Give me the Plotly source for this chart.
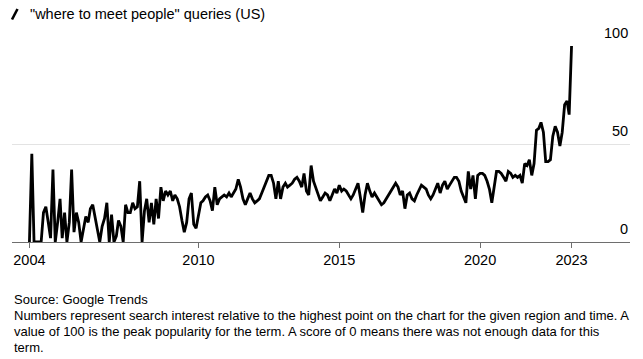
import plotly.graph_objects as go
import pandas as pd

# Monthly Google Trends values, Jan 2004 – Apr 2023
values = [
    0, 45, 0, 0, 0, 0, 15, 18, 10, 2,            # 2004 Jan-Oct
    37, 0, 10, 22, 2, 15, 0, 10, 37, 5,          # m10-19
    15, 10, 0, 7, 13, 10, 17, 19, 12, 5,         # m20-29
    0, 8, 12, 20, 0, 14, 0, 3, 11, 8,            # m30-39
    0, 19, 15, 15, 20, 17, 18, 31, 0, 16,        # m40-49
    22, 10, 20, 9, 22, 12, 28, 21, 26, 24,       # m50-59
    26, 21, 24, 22, 18, 11, 5, 10, 22, 25,       # m60-69
    9, 7, 13, 20, 21, 23, 24, 21, 16, 28,        # m70-79
    19, 22, 23, 24, 23, 25, 23, 25, 27, 32,      # m80-89
    28, 22, 19, 22, 25, 22, 20, 21, 22, 25,      # m90-99
    28, 31, 34, 34, 30, 22, 31, 22, 28, 30,      # m100-109
    28, 29, 30, 32, 33, 31, 28, 35, 26, 24,      # m110-119
    39, 31, 28, 25, 21, 23, 25, 24, 21, 24,      # m120-129
    27, 25, 29, 26, 27, 26, 24, 22, 24, 27,      # m130-139
    30, 23, 15, 24, 30, 26, 23, 25, 23, 21,      # m140-149
    19, 20, 22, 24, 26, 28, 30, 28, 24, 26,      # m150-159
    17, 24, 25, 22, 21, 24, 27, 29, 28, 27,      # m160-169
    24, 22, 24, 27, 30, 25, 29, 31, 27, 29,      # m170-179
    31, 33, 33, 31, 26, 23, 20, 36, 27, 34,      # m180-189
    22, 34, 35, 35, 34, 31, 27, 20, 28, 36,      # m190-199
    36, 35, 33, 31, 36, 35, 33, 34, 33, 34,      # m200-209
    30, 40, 39, 42, 34, 40, 57, 58, 61, 56,      # m210-219
    41, 41, 42, 54, 59, 56, 49, 56, 70, 72,      # m220-229
    65, 100,                                     # m230-231
]
dates = pd.date_range("2004-01-01", periods=len(values), freq="MS")

tick_vals = ["2004-01-01", "2010-01-01", "2015-01-01", "2020-01-01", "2023-04-01"]
tick_text = ["2004", "2010", "2015", "2020", "2023"]
y_labels = [100, 50, 0]

title_text = '"where to meet people" queries (US)'
source_lines = [
    "Source: Google Trends",
    "Numbers represent search interest relative to the highest point on the chart for the given region and time. A",
    "value of 100 is the peak popularity for the term. A score of 0 means there was not enough data for this",
    "term.",
]

FONT = "Liberation Sans, Arial, sans-serif"

fig = go.Figure()
fig.add_trace(go.Scatter(
    x=dates, y=values, mode="lines",
    line=dict(color="#000000", width=2.8),
    hoverinfo="skip", showlegend=False,
))

W, H = 643, 359
L, R, T, B = 12, 13, 46, 117
pw, ph = W - L - R, H - T - B


def px_x(px):
    return (px - L) / pw


def px_y(py):
    return (H - B - py) / ph


fig.update_layout(
    width=W, height=H,
    margin=dict(l=L, r=R, t=T, b=B, pad=0),
    paper_bgcolor="white", plot_bgcolor="white",
    font=dict(family=FONT, color="#000000"),
    xaxis=dict(
        range=["2003-05-20", "2025-04-28"],
        tickvals=tick_vals, ticktext=tick_text,
        showgrid=False, zeroline=False,
        showline=True, linecolor="#6e6e6e", linewidth=1,
        ticks="outside", ticklen=5, tickcolor="#6e6e6e", tickwidth=1,
        tickfont=dict(size=14.5, color="#000000", family=FONT),
        fixedrange=True,
    ),
    yaxis=dict(
        range=[0, 100],
        tickvals=[50, 100], showticklabels=False,
        showgrid=True, gridcolor="#e3e3e3", gridwidth=1,
        zeroline=False, showline=False, fixedrange=True,
    ),
)

for v in y_labels:
    fig.add_annotation(
        x=1, xref="paper", xanchor="right",
        y=v, yref="y", yanchor="bottom", yshift=3,
        text=str(v), showarrow=False,
        font=dict(size=14.5, color="#000000", family=FONT),
    )

# title icon
fig.add_shape(type="line", xref="paper", yref="paper",
              x0=px_x(12), y0=px_y(19.5), x1=px_x(17.5), y1=px_y(9),
              line=dict(color="#000000", width=2.6))

fig.add_annotation(
    x=px_x(28), xref="paper", xanchor="left",
    y=px_y(14.5), yref="paper", yanchor="middle",
    text=title_text, showarrow=False,
    font=dict(size=14.5, color="#000000", family=FONT),
)

for i, line in enumerate(source_lines):
    fig.add_annotation(
        x=0, xref="paper", xanchor="left",
        y=px_y(299 + 16 * i), yref="paper", yanchor="middle",
        text=line, showarrow=False, align="left",
        font=dict(size=13, color="#000000", family=FONT),
    )

fig.write_html("out.html", config={"displayModeBar": False},
               post_script="document.body.style.margin='0';")
